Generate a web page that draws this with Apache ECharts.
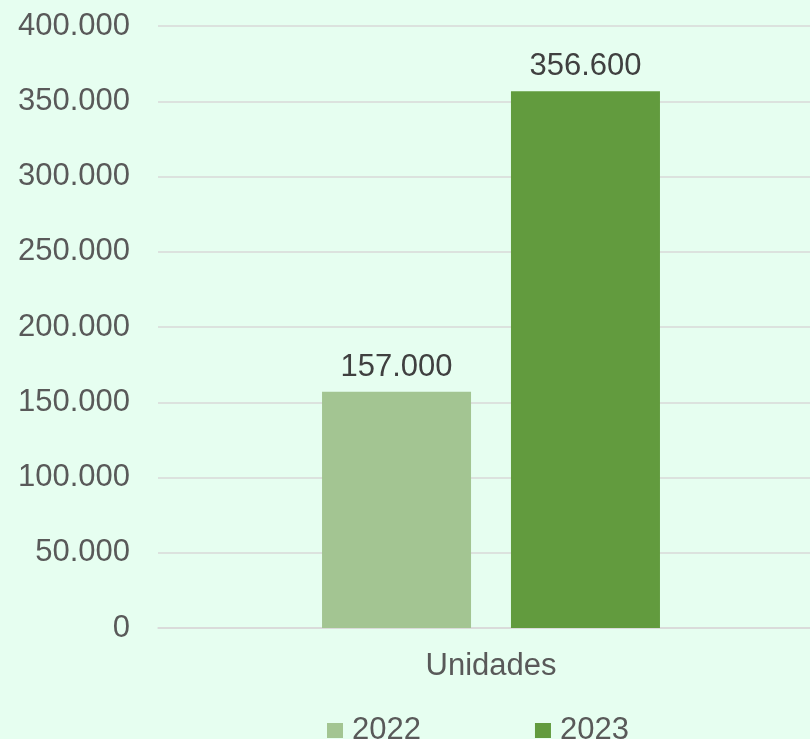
<!DOCTYPE html>
<html>
<head>
<meta charset="utf-8">
<script src="https://cdn.jsdelivr.net/npm/echarts@6/dist/echarts.min.js"></script>
<style>
html,body{margin:0;padding:0;background:#e6fef0;overflow:hidden;width:810px;height:739px;}
#c{width:824px;height:739px;}
</style>
</head>
<body>
<div id="c"></div>
<script>
const categories = ['Unidades'];
const seriesNames = ['2022', '2023'];
const values2022 = [157000];
const values2023 = [356600];

function fmt(v) {
  return String(Math.round(v)).replace(/\B(?=(\d{3})+(?!\d))/g, '.');
}

const chart = echarts.init(document.getElementById('c'));
const font = 'Liberation Sans, Arial, sans-serif';
chart.setOption({
  backgroundColor: '#e6fef0',
  animation: false,
  grid: { left: 158, right: 0, top: 26, bottom: 111, containLabel: false },
  xAxis: {
    type: 'category',
    data: categories,
    axisLine: { show: true, lineStyle: { color: '#d9d9d9', width: 1.5 } },
    axisTick: { show: false },
    axisLabel: { color: '#595959', fontSize: 31, fontFamily: font, margin: 23 }
  },
  yAxis: {
    type: 'value',
    min: 0, max: 400000, interval: 50000,
    axisLine: { show: false },
    axisTick: { show: false },
    splitLine: { lineStyle: { color: '#d9d9d9', width: 1.5 } },
    axisLabel: { color: '#595959', fontSize: 31, fontFamily: font, margin: 28, formatter: fmt }
  },
  legend: {
    data: seriesNames,
    left: 327,
    top: 715,
    padding: 0,
    itemWidth: 16,
    itemHeight: 15,
    itemGap: 114,
    icon: 'rect',
    textStyle: { color: '#595959', fontSize: 31, fontFamily: font, padding: [0, 0, 0, 4] }
  },
  series: [
    {
      name: seriesNames[0], type: 'bar', data: values2022,
      barWidth: 149, barGap: '26.8%',
      itemStyle: { color: '#a3c592' },
      label: { show: true, position: 'top', distance: 9, color: '#404040', fontSize: 31, fontFamily: font, formatter: p => fmt(p.value) }
    },
    {
      name: seriesNames[1], type: 'bar', data: values2023,
      barWidth: 149, barGap: '26.8%',
      itemStyle: { color: '#629b3e' },
      label: { show: true, position: 'top', distance: 9, color: '#404040', fontSize: 31, fontFamily: font, formatter: p => fmt(p.value) }
    }
  ]
});
</script>
</body>
</html>
